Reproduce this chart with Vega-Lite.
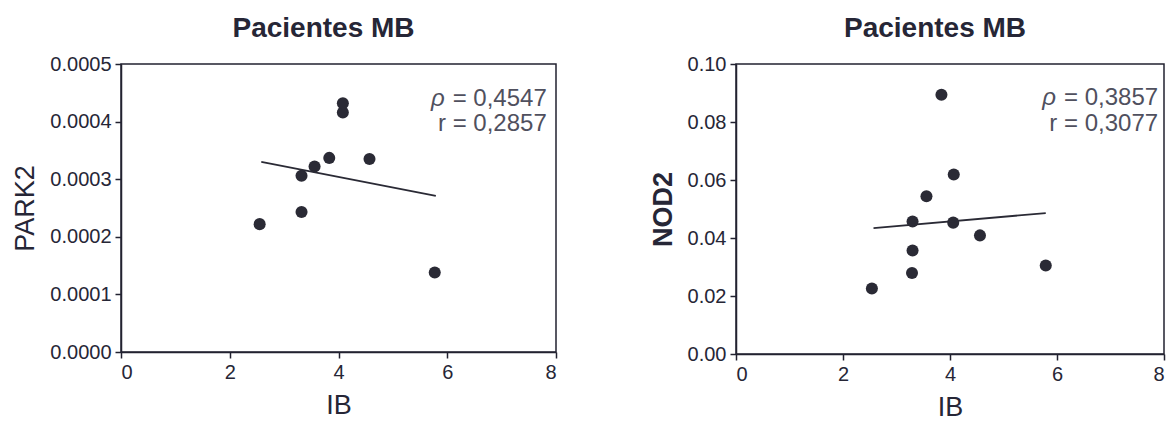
{
  "$schema": "https://vega.github.io/schema/vega-lite/v6.json",
  "background": "white",
  "padding": {"left": 11, "top": 14, "right": 2, "bottom": 2},
  "spacing": 90,
  "config": {
    "view": {"stroke": "#222230", "strokeWidth": 1.5},
    "font": "Liberation Sans",
    "axis": {
      "domainColor": "#222230", "domainWidth": 1.5,
      "tickColor": "#222230", "tickWidth": 1.5, "tickSize": 6,
      "grid": false,
      "labelFont": "Liberation Sans", "labelFontSize": 20, "labelColor": "#262636", "labelPadding": 4,
      "titleFont": "Liberation Sans", "titleFontSize": 27, "titleFontWeight": "normal", "titleColor": "#262636", "titlePadding": 10
    },
    "title": {"fontSize": 28, "fontWeight": "bold", "color": "#262636", "font": "Liberation Sans", "offset": 11, "anchor": "middle", "dx": -15}
  },
  "datasets": {
    "park2": [
      {"IB": 2.55, "PARK2": 0.000222},
      {"IB": 3.32, "PARK2": 0.000243},
      {"IB": 3.32, "PARK2": 0.000306},
      {"IB": 3.56, "PARK2": 0.000322},
      {"IB": 3.83, "PARK2": 0.000337},
      {"IB": 4.08, "PARK2": 0.000416},
      {"IB": 4.08, "PARK2": 0.000432},
      {"IB": 4.57, "PARK2": 0.000335},
      {"IB": 5.77, "PARK2": 0.000138}
    ],
    "park2fit": [
      {"IB": 2.58, "PARK2": 0.000330},
      {"IB": 5.79, "PARK2": 0.000271}
    ],
    "nod2": [
      {"IB": 2.54, "NOD2": 0.0226},
      {"IB": 3.29, "NOD2": 0.0279},
      {"IB": 3.30, "NOD2": 0.0357},
      {"IB": 3.30, "NOD2": 0.0457},
      {"IB": 3.56, "NOD2": 0.0544},
      {"IB": 3.84, "NOD2": 0.0894},
      {"IB": 4.06, "NOD2": 0.0453},
      {"IB": 4.07, "NOD2": 0.0619},
      {"IB": 4.56, "NOD2": 0.0409},
      {"IB": 5.79, "NOD2": 0.0305}
    ],
    "nod2fit": [
      {"IB": 2.57, "NOD2": 0.0434},
      {"IB": 5.79, "NOD2": 0.0486}
    ],
    "ann1": [{"sym": "ρ", "eq": "= 0,4547", "r": "r = 0,2857"}],
    "ann2": [{"sym": "ρ", "eq": "= 0,3857", "r": "r = 0,3077"}]
  },
  "hconcat": [
    {
      "title": "Pacientes MB",
      "width": 435,
      "height": 288,
      "layer": [
        {
          "data": {"name": "park2"},
          "mark": {"type": "circle", "size": 145, "opacity": 1, "color": "#2a2a35"},
          "encoding": {
            "x": {"field": "IB", "type": "quantitative", "scale": {"domain": [0, 8], "nice": false},
                  "axis": {"values": [0, 2, 4, 6, 8], "title": "IB"}},
            "y": {"field": "PARK2", "type": "quantitative", "scale": {"domain": [0, 0.0005], "nice": false},
                  "axis": {"values": [0, 0.0001, 0.0002, 0.0003, 0.0004, 0.0005], "format": ".4f", "title": "PARK2"}}
          }
        },
        {
          "data": {"name": "park2fit"},
          "mark": {"type": "line", "color": "#2a2a35", "strokeWidth": 1.8},
          "encoding": {
            "x": {"field": "IB", "type": "quantitative"},
            "y": {"field": "PARK2", "type": "quantitative"}
          }
        },
        {
          "data": {"name": "ann1"},
          "mark": {"type": "text", "align": "right", "baseline": "alphabetic", "fontSize": 24, "color": "#50505e"},
          "encoding": {"x": {"datum": 7.83}, "y": {"datum": 0.000427}, "text": {"field": "eq"}}
        },
        {
          "data": {"name": "ann1"},
          "mark": {"type": "text", "align": "right", "baseline": "alphabetic", "fontSize": 24, "fontStyle": "italic", "color": "#50505e", "dx": -102},
          "encoding": {"x": {"datum": 7.83}, "y": {"datum": 0.000427}, "text": {"field": "sym"}}
        },
        {
          "data": {"name": "ann1"},
          "mark": {"type": "text", "align": "right", "baseline": "alphabetic", "fontSize": 24, "color": "#50505e"},
          "encoding": {"x": {"datum": 7.83}, "y": {"datum": 0.000384}, "text": {"field": "r"}}
        }
      ]
    },
    {
      "title": "Pacientes MB",
      "width": 428,
      "height": 290,
      "layer": [
        {
          "data": {"name": "nod2"},
          "mark": {"type": "circle", "size": 145, "opacity": 1, "color": "#2a2a35"},
          "encoding": {
            "x": {"field": "IB", "type": "quantitative", "scale": {"domain": [0, 8], "nice": false},
                  "axis": {"values": [0, 2, 4, 6, 8], "title": "IB"}},
            "y": {"field": "NOD2", "type": "quantitative", "scale": {"domain": [0, 0.1], "nice": false},
                  "axis": {"values": [0, 0.02, 0.04, 0.06, 0.08, 0.1], "format": ".2f", "title": "NOD2", "titleFontWeight": "bold"}}
          }
        },
        {
          "data": {"name": "nod2fit"},
          "mark": {"type": "line", "color": "#2a2a35", "strokeWidth": 1.8},
          "encoding": {
            "x": {"field": "IB", "type": "quantitative"},
            "y": {"field": "NOD2", "type": "quantitative"}
          }
        },
        {
          "data": {"name": "ann2"},
          "mark": {"type": "text", "align": "right", "baseline": "alphabetic", "fontSize": 24, "color": "#50505e"},
          "encoding": {"x": {"datum": 7.89}, "y": {"datum": 0.0859}, "text": {"field": "eq"}}
        },
        {
          "data": {"name": "ann2"},
          "mark": {"type": "text", "align": "right", "baseline": "alphabetic", "fontSize": 24, "fontStyle": "italic", "color": "#50505e", "dx": -102},
          "encoding": {"x": {"datum": 7.89}, "y": {"datum": 0.0859}, "text": {"field": "sym"}}
        },
        {
          "data": {"name": "ann2"},
          "mark": {"type": "text", "align": "right", "baseline": "alphabetic", "fontSize": 24, "color": "#50505e"},
          "encoding": {"x": {"datum": 7.89}, "y": {"datum": 0.0769}, "text": {"field": "r"}}
        }
      ]
    }
  ]
}
